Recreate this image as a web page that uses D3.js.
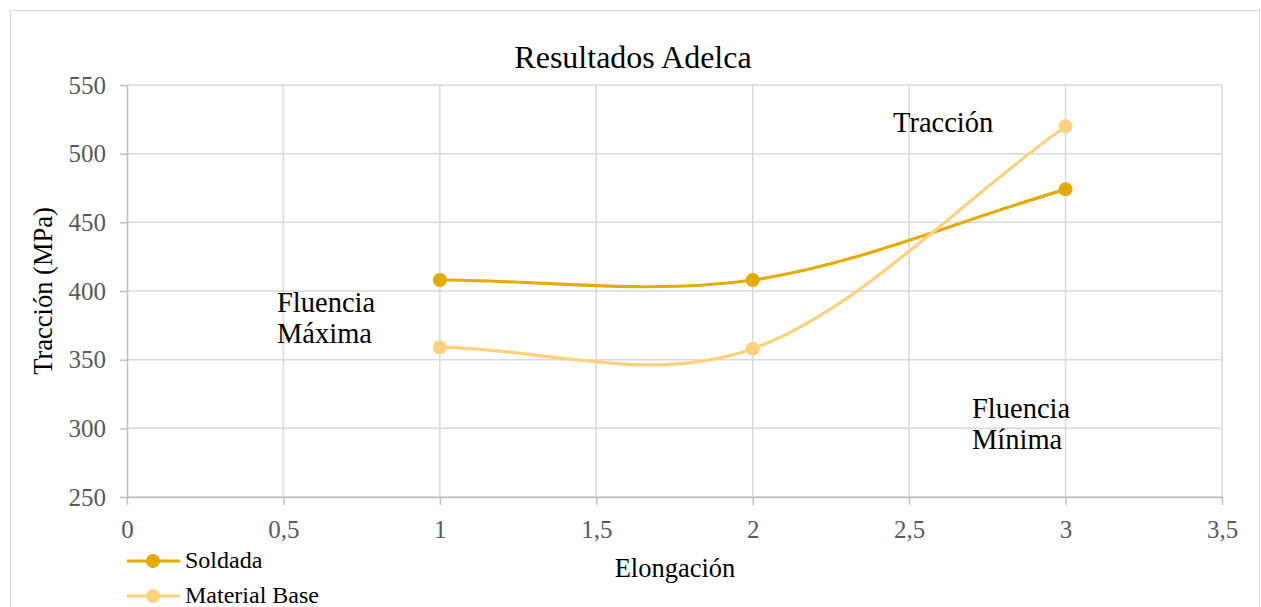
<!DOCTYPE html>
<html>
<head>
<meta charset="utf-8">
<script src="https://cdn.jsdelivr.net/npm/d3@7"></script>
<style>
  body { margin: 0; background: #fff; }
  svg { font-family: 'Liberation Serif', 'Times New Roman', serif; }
</style>
</head>
<body>
<div class="holder"></div>
<script>
// datos
const elongacion = [1, 2, 3]
const soldada = [408, 408, 474]
const materialBase = [359, 358, 520]
const seriesNames = ['Soldada', 'Material Base']
const seriesColors = ['#E3AA00', '#FFD17F']
const xTicks = [0, 0.5, 1, 1.5, 2, 2.5, 3, 3.5]
const yTicks = [250, 300, 350, 400, 450, 500, 550]

const width = 1261
const height = 607
const margin = { left: 127, right: 39, top: 85, bottom: 110 }

const svg = d3.select('.holder').append('svg')
  .attr('width', width)
  .attr('height', height)

// borde del área del gráfico
svg.append('rect')
  .attr('x', 10.5).attr('y', 10.5)
  .attr('width', 1249).attr('height', 620)
  .attr('fill', 'none')
  .attr('stroke', '#d9d9d9')

const xScale = d3.scaleLinear().domain([0, 3.5]).range([margin.left, width - margin.right])
const yScale = d3.scaleLinear().domain([250, 550]).range([height - margin.bottom, margin.top])

const fmt = (d) => String(d).replace('.', ',')

// cuadrícula
svg.append('g').selectAll('line.h')
  .data(yTicks).enter().append('line')
  .attr('x1', xScale(0)).attr('x2', xScale(3.5))
  .attr('y1', (d) => yScale(d)).attr('y2', (d) => yScale(d))
  .attr('stroke', '#d9d9d9').attr('stroke-width', 1.5)

svg.append('g').selectAll('line.v')
  .data(xTicks.slice(1)).enter().append('line')
  .attr('x1', (d) => xScale(d)).attr('x2', (d) => xScale(d))
  .attr('y1', yScale(250)).attr('y2', yScale(550))
  .attr('stroke', '#d9d9d9').attr('stroke-width', 1.5)

// ejes
const xAxis = d3.axisBottom(xScale).tickValues(xTicks).tickFormat(fmt).tickSize(8).tickSizeOuter(0)
const gx = svg.append('g')
  .attr('transform', `translate(0, ${yScale(250)})`)
  .call(xAxis)
gx.select('.domain').attr('stroke', '#bfbfbf').attr('stroke-width', 1.5)
gx.selectAll('.tick line').attr('stroke', '#bfbfbf').attr('stroke-width', 1.5)
gx.selectAll('.tick text')
  .attr('font-family', 'Liberation Serif').attr('font-size', 25).attr('fill', '#595959')
  .attr('y', 0).attr('dy', 0).attr('transform', 'translate(0, 41)')

const yAxis = d3.axisLeft(yScale).tickValues(yTicks).tickSize(7).tickSizeOuter(0)
const gy = svg.append('g')
  .attr('transform', `translate(${xScale(0)}, 0)`)
  .call(yAxis)
gy.select('.domain').attr('stroke', '#bfbfbf').attr('stroke-width', 1.5)
gy.selectAll('.tick line').attr('stroke', '#bfbfbf').attr('stroke-width', 1.5)
gy.selectAll('.tick text')
  .attr('font-family', 'Liberation Serif').attr('font-size', 25).attr('fill', '#595959').attr('x', -21)

// título
svg.append('text')
  .attr('x', 633).attr('y', 68)
  .attr('text-anchor', 'middle')
  .attr('font-size', 32)
  .text('Resultados Adelca')

svg.append('text')
  .attr('transform', `translate(52, ${(yScale(250) + yScale(550)) / 2}) rotate(-90)`)
  .attr('text-anchor', 'middle')
  .attr('font-size', 26.5)
  .text('Tracción (MPa)')

svg.append('text')
  .attr('x', 675).attr('y', 577)
  .attr('text-anchor', 'middle')
  .attr('font-size', 26.5)
  .text('Elongación')

// curva suavizada al estilo Excel (Bezier, extremos reflejados)
function excelCurve (context) {
  let pts = []
  return {
    areaStart () {},
    areaEnd () {},
    lineStart () { pts = [] },
    point (x, y) { pts.push([+x, +y]) },
    lineEnd () {
      const n = pts.length
      if (!n) return
      context.moveTo(pts[0][0], pts[0][1])
      if (n < 3) {
        pts.slice(1).forEach((p) => context.lineTo(p[0], p[1]))
        return
      }
      const get = (i) => {
        if (i < 0) return [2 * pts[0][0] - pts[1][0], 2 * pts[0][1] - pts[1][1]]
        if (i >= n) return [2 * pts[n - 1][0] - pts[n - 2][0], 2 * pts[n - 1][1] - pts[n - 2][1]]
        return pts[i]
      }
      for (let i = 0; i < n - 1; i++) {
        const p0 = get(i - 1), p1 = get(i), p2 = get(i + 1), p3 = get(i + 2)
        context.bezierCurveTo(
          p1[0] + (p2[0] - p0[0]) / 6, p1[1] + (p2[1] - p0[1]) / 6,
          p2[0] - (p3[0] - p1[0]) / 6, p2[1] - (p3[1] - p1[1]) / 6,
          p2[0], p2[1]
        )
      }
    }
  }
}

// series
const series = [soldada, materialBase]
const line = d3.line()
  .x((d) => xScale(d[0]))
  .y((d) => yScale(d[1]))
  .curve(excelCurve)

series.forEach((vals, si) => {
  const pts = elongacion.map((e, i) => [e, vals[i]])
  svg.append('path')
    .datum(pts)
    .attr('d', line)
    .attr('fill', 'none')
    .attr('stroke', seriesColors[si])
    .attr('stroke-width', 3.2)
  svg.append('g').selectAll('circle')
    .data(pts).enter().append('circle')
    .attr('cx', (d) => xScale(d[0]))
    .attr('cy', (d) => yScale(d[1]))
    .attr('r', 7)
    .attr('fill', seriesColors[si])
})

// anotaciones
const notes = [
  { x: 277, y: 312, lines: ['Fluencia', 'Máxima'] },
  { x: 893, y: 132, lines: ['Tracción'] },
  { x: 972, y: 418, lines: ['Fluencia', 'Mínima'] }
]
notes.forEach((n) => {
  const t = svg.append('text').attr('font-size', 28.5)
  n.lines.forEach((l, i) => {
    t.append('tspan').attr('x', n.x).attr('y', n.y + i * 31).text(l)
  })
})

// leyenda
seriesNames.forEach((name, i) => {
  const ly = 561 + i * 35
  svg.append('line')
    .attr('x1', 127).attr('x2', 180)
    .attr('y1', ly).attr('y2', ly)
    .attr('stroke', seriesColors[i]).attr('stroke-width', 3.2)
  svg.append('circle')
    .attr('cx', 153).attr('cy', ly).attr('r', 7)
    .attr('fill', seriesColors[i])
  svg.append('text')
    .attr('x', 185).attr('y', ly + 7)
    .attr('font-size', 24)
    .text(name)
})
</script>
</body>
</html>
